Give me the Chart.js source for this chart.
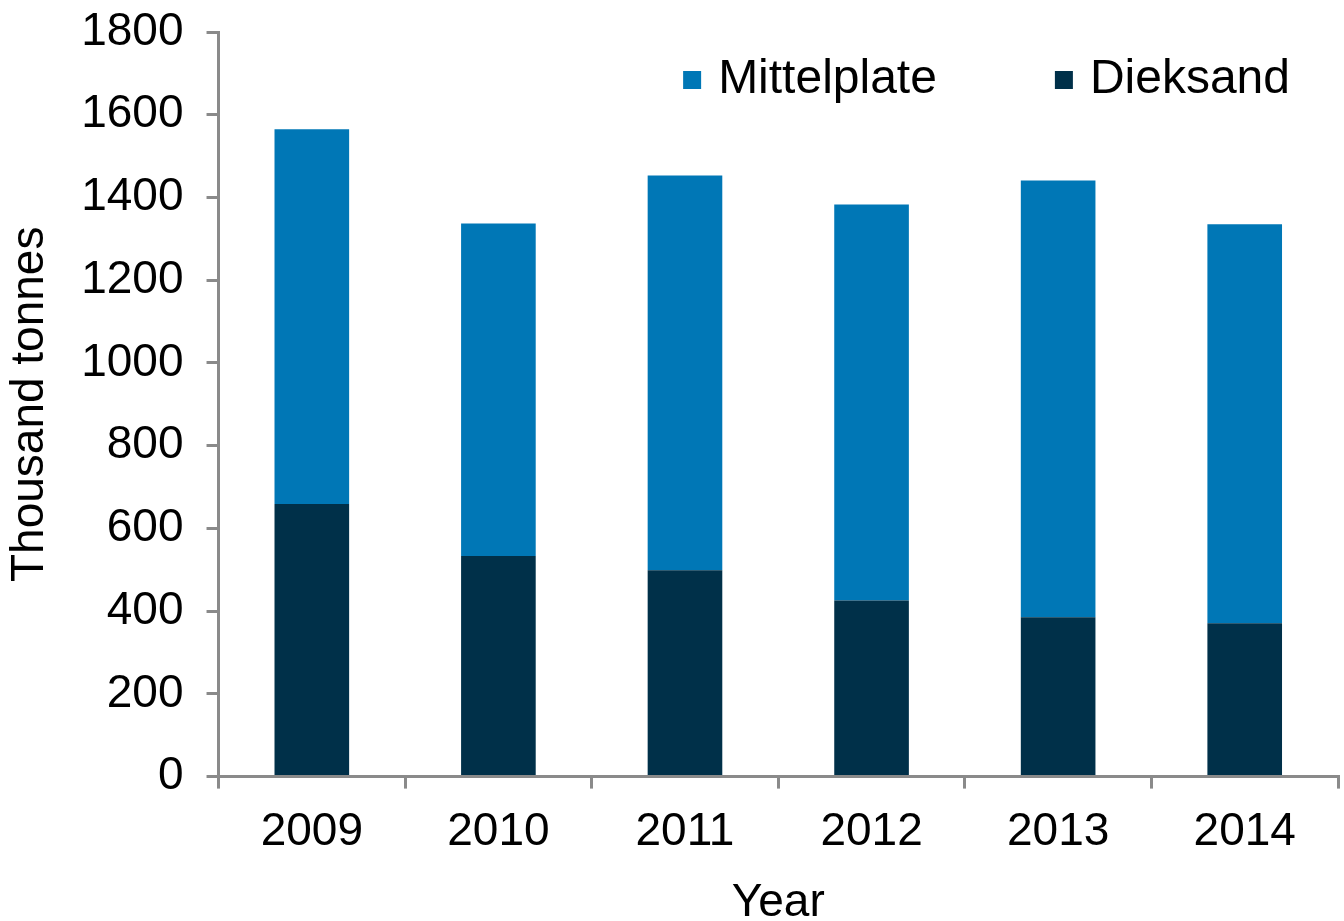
<!DOCTYPE html>
<html>
<head>
<meta charset="utf-8">
<script src="https://cdn.jsdelivr.net/npm/chart.js@4/dist/chart.umd.min.js"></script>
<style>
  html, body { margin: 0; padding: 0; background: #fff; }
  #wrap { width: 1344px; height: 921px; }
</style>
</head>
<body>
<div id="wrap"><canvas id="c" width="1344" height="921"></canvas></div>
<script>
const years = ['2009', '2010', '2011', '2012', '2013', '2014'];
const dieksand = [659, 533, 499, 426, 385, 371];
const mittelplate = [906, 804, 954, 957, 1056, 964];
const yTicks = [0, 200, 400, 600, 800, 1000, 1200, 1400, 1600, 1800];

const FONT = "'Liberation Sans', Arial, sans-serif";
const LIGHT = '#0077b6', DARK = '#003049', AXIS = '#8a8a8a', INK = '#000';
const SIZE = 46;

// Legend drawn inside the plot, top right, Mittelplate first.
const insideLegend = {
  id: 'insideLegend',
  afterDraw(chart) {
    const ctx = chart.ctx, area = chart.chartArea;
    const items = chart.data.datasets.slice().reverse();
    ctx.save();
    ctx.font = `48px ${FONT}`;
    ctx.textBaseline = 'middle';
    const box = 18, gapText = 17, gapItem = 118, y = area.top + 48;
    const widths = items.map((d) => box + gapText + ctx.measureText(d.label).width);
    let x = area.right - 48 - widths.reduce((a, b) => a + b, 0) - gapItem * (items.length - 1);
    items.forEach((d, i) => {
      ctx.fillStyle = d.backgroundColor;
      ctx.fillRect(x, y - box / 2, box, box);
      ctx.fillStyle = INK;
      ctx.fillText(d.label, x + box + gapText, y);
      x += widths[i] + gapItem;
    });
    ctx.restore();
  }
};

new Chart(document.getElementById('c'), {
  type: 'bar',
  data: {
    labels: years,
    datasets: [
      { label: 'Dieksand', data: dieksand, backgroundColor: DARK, categoryPercentage: 0.8, barPercentage: 0.5 },
      { label: 'Mittelplate', data: mittelplate, backgroundColor: LIGHT, categoryPercentage: 0.8, barPercentage: 0.5 }
    ]
  },
  options: {
    responsive: false, animation: false,
    layout: { padding: { top: 32, right: 6, left: 3, bottom: -10 } },
    plugins: { legend: { display: false }, tooltip: { enabled: false } },
    scales: {
      x: {
        stacked: true,
        grid: { offset: true, drawOnChartArea: false, color: AXIS, lineWidth: 3, tickLength: 12 },
        border: { color: AXIS, width: 3 },
        ticks: { font: { family: FONT, size: SIZE }, color: INK, padding: 16 },
        title: { display: true, text: 'Year', font: { family: FONT, size: SIZE }, color: INK, padding: { top: 0, bottom: 0 } }
      },
      y: {
        stacked: true, min: 0, max: 1800,
        afterBuildTicks: (ax) => { ax.ticks = yTicks.map((v) => ({ value: v })); },
        afterFit: (ax) => { ax.paddingTop = 0; ax.paddingBottom = 0; },
        grid: { drawOnChartArea: false, color: AXIS, lineWidth: 3, tickLength: 12 },
        border: { color: AXIS, width: 3 },
        ticks: { font: { family: FONT, size: SIZE }, color: INK, padding: 23, callback: (v) => String(v) },
        title: { display: true, text: 'Thousand tonnes', font: { family: FONT, size: SIZE }, color: INK, padding: { top: 0, bottom: 0 } }
      }
    }
  },
  plugins: [insideLegend]
});
</script>
</body>
</html>
